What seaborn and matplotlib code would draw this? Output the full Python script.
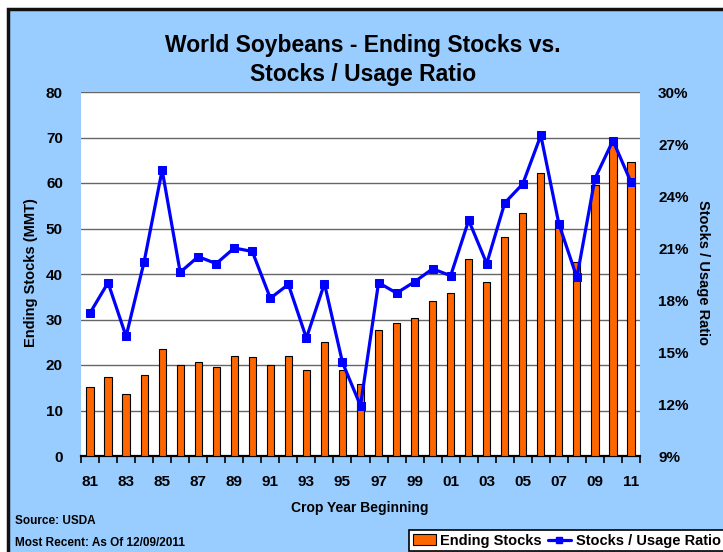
import numpy as np
import pandas as pd
import matplotlib
matplotlib.use("Agg")
import matplotlib.pyplot as plt
import seaborn as sns
from matplotlib.patches import Rectangle, Patch
from matplotlib.lines import Line2D
from matplotlib.ticker import FuncFormatter

years = ["81", "82", "83", "84", "85", "86", "87", "88", "89", "90",
         "91", "92", "93", "94", "95", "96", "97", "98", "99", "00",
         "01", "02", "03", "04", "05", "06", "07", "08", "09", "10", "11"]
ending_stocks = [15.1, 17.4, 13.7, 17.9, 23.6, 20.1, 20.7, 19.6, 21.9, 21.8,
                 19.9, 21.9, 19.0, 25.1, 19.0, 15.8, 27.6, 29.2, 30.3, 34.0,
                 35.8, 43.2, 38.2, 48.2, 53.5, 62.1, 51.6, 42.6, 59.5, 68.7, 64.6]
stocks_usage_pct = [17.25, 19.0, 15.9, 20.2, 25.5, 19.6, 20.5, 20.1, 21.0, 20.8,
                    18.1, 18.9, 15.8, 18.95, 14.4, 11.9, 19.0, 18.4, 19.05, 19.8,
                    19.4, 22.6, 20.1, 23.6, 24.7, 27.5, 22.4, 19.3, 25.0, 27.2, 24.8]

left_ticks = [0, 10, 20, 30, 40, 50, 60, 70, 80]
right_ticks = [9, 12, 15, 18, 21, 24, 27, 30]

BG = "#99CCFF"
ORANGE = "#FF6600"
BLUE = "#0000FF"

sns.set_theme(style="white")
plt.rcParams["font.family"] = ["Liberation Sans", "DejaVu Sans"]
plt.rcParams["font.weight"] = "bold"
for k in ["text.color", "axes.labelcolor", "xtick.color", "ytick.color"]:
    plt.rcParams[k] = "black"

W, H = 723, 552
fig = plt.figure(figsize=(W / 100, H / 100), dpi=100)
fig.patch.set_facecolor("white")
# blue frame with dark border
fig.patches.append(Rectangle((8 / W, -0.05), 1.1, 1 - 9 / H + 0.05,
                             transform=fig.transFigure, facecolor=BG,
                             edgecolor="#111111", linewidth=2.5, zorder=-5))

ax = fig.add_axes([81 / W, 1 - 456 / H, 559 / W, 364 / H])
ax.set_zorder(1)
ax.set_facecolor("white")

df = pd.DataFrame({"year": years, "stocks": ending_stocks, "ratio": stocks_usage_pct})
sns.barplot(data=df, x="year", y="stocks", ax=ax, color=ORANGE, saturation=1,
            width=0.4, edgecolor="black", linewidth=0.8, zorder=3)

ax.set_ylim(0, 80)
ax.set_xlim(-0.5, len(years) - 0.5)
ax.set_yticks(left_ticks)
ax.yaxis.grid(True, color="#666666", linewidth=1.0, zorder=0)
ax.set_axisbelow(True)
for s in ["top", "right", "left"]:
    ax.spines[s].set_visible(False)
ax.spines["bottom"].set_color("black")
ax.spines["bottom"].set_linewidth(1.6)

ax.set_xticks(range(0, len(years), 2))
ax.set_xticklabels(years[::2])
ax.set_xticks(np.arange(-0.5, len(years), 1), minor=True)
ax.tick_params(axis="x", which="major", length=0, pad=14, labelsize=11)
ax.tick_params(axis="x", which="minor", length=5, width=1.2, color="black",
               direction="out", bottom=True)
ax.tick_params(axis="y", length=0, pad=13, labelsize=11)
for lbl in ax.get_xticklabels() + ax.get_yticklabels():
    lbl.set_fontweight("bold")
ax.set_xlabel("")
ax.set_ylabel("")

ax2 = ax.twinx()
sns.lineplot(x=np.arange(len(years)), y=stocks_usage_pct, ax=ax2, color=BLUE,
             linewidth=2.3, marker="s", markersize=5.5, markeredgecolor=BLUE,
             markerfacecolor=BLUE, zorder=5)
ax2.set_ylim(9, 30)
ax2.set_yticks(right_ticks)
ax2.yaxis.set_major_formatter(FuncFormatter(lambda v, p: f"{int(v)}%"))
ax2.tick_params(axis="y", length=0, pad=13, labelsize=11)
for lbl in ax2.get_yticklabels():
    lbl.set_fontweight("bold")
for s in ax2.spines.values():
    s.set_visible(False)
ax2.grid(False)
ax2.set_ylabel("")

fig.text(363 / W, 1 - 60 / H, "World Soybeans - Ending Stocks vs.\nStocks / Usage Ratio",
         ha="center", va="center", fontsize=16.5, fontweight="bold", linespacing=1.3)
fig.text(31 / W, 1 - 273 / H, "Ending Stocks (MMT)", rotation=90, ha="center",
         va="center", fontsize=10.5, fontweight="bold")
fig.text(703 / W, 1 - 273 / H, "Stocks / Usage Ratio", rotation=270, ha="center",
         va="center", fontsize=10.5, fontweight="bold")
fig.text(360 / W, 1 - 508 / H, "Crop Year Beginning", ha="center", va="center",
         fontsize=10, fontweight="bold")
fig.text(15 / W, 1 - 521 / H, "Source: USDA", ha="left", va="center",
         fontsize=8.5, fontweight="bold")
fig.text(15 / W, 1 - 543 / H, "Most Recent: As Of 12/09/2011", ha="left", va="center",
         fontsize=8.5, fontweight="bold")

handles = [Patch(facecolor=ORANGE, edgecolor="black", linewidth=0.8),
           Line2D([0], [0], color=BLUE, linewidth=2.3, marker="s", markersize=4)]
leg = fig.legend(handles, ["Ending Stocks", "Stocks / Usage Ratio"],
                 loc="upper left", bbox_to_anchor=(409 / W, 1 - 530 / H),
                 ncol=2, frameon=True, fancybox=False, framealpha=1,
                 edgecolor="black", facecolor="white",
                 prop={"weight": "bold", "size": 10.5}, handlelength=1.6,
                 handletextpad=0.3, columnspacing=0.4, borderpad=0.25,
                 borderaxespad=0)
leg.get_frame().set_linewidth(1.2)

fig.savefig("out.png", dpi=100, facecolor=fig.get_facecolor())
